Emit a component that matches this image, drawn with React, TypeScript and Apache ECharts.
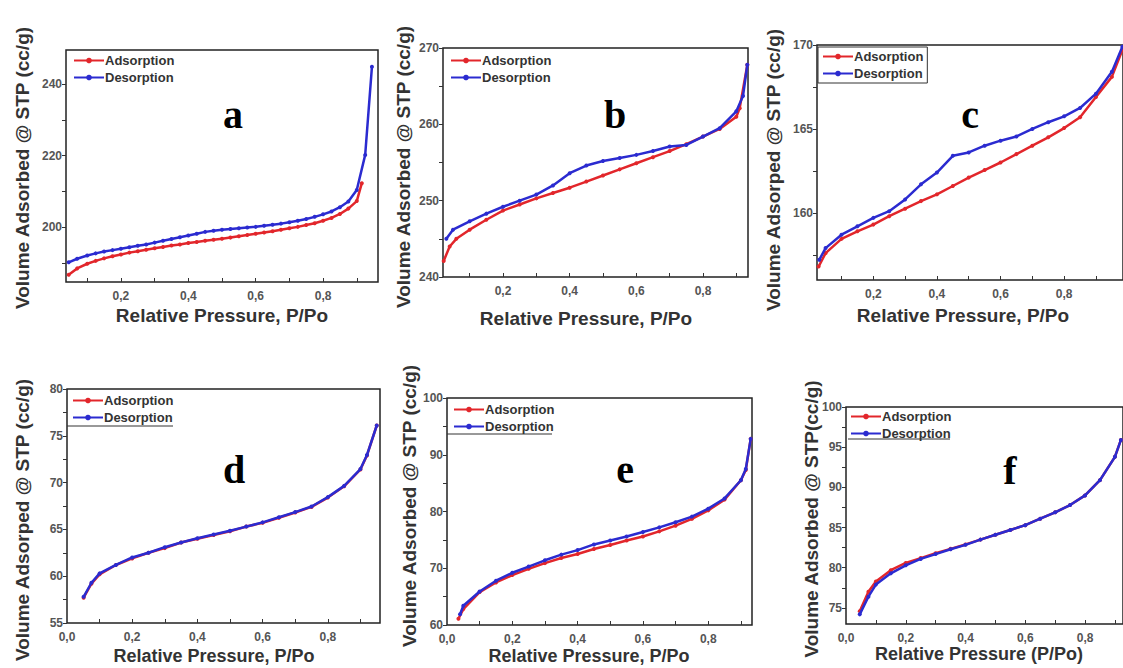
import React, { useEffect, useRef } from "react";
import * as echarts from "echarts";

// ---------- Data ----------
// Panel a
const aAdsP = [0.045,0.07,0.1,0.125,0.15,0.175,0.2,0.225,0.25,0.275,0.3,0.325,0.35,0.375,0.4,0.425,0.45,0.475,0.5,0.525,0.55,0.575,0.6,0.625,0.65,0.675,0.7,0.725,0.75,0.775,0.8,0.825,0.85,0.875,0.9,0.915];
const aAdsV = [186.7,188.5,189.8,190.6,191.3,191.9,192.4,192.9,193.3,193.7,194.1,194.5,194.9,195.2,195.6,195.9,196.2,196.5,196.8,197.1,197.5,197.8,198.2,198.5,198.9,199.3,199.7,200.1,200.6,201.1,201.8,202.6,203.7,205.2,207.3,212.3];
const aDesP = [0.045,0.07,0.1,0.125,0.15,0.175,0.2,0.225,0.25,0.275,0.3,0.325,0.35,0.375,0.4,0.425,0.45,0.475,0.5,0.525,0.55,0.575,0.6,0.625,0.65,0.675,0.7,0.725,0.75,0.775,0.8,0.825,0.85,0.875,0.9,0.925,0.945];
const aDesV = [190.2,191.2,192.1,192.7,193.2,193.6,194.0,194.4,194.8,195.2,195.7,196.2,196.7,197.2,197.7,198.2,198.7,199.0,199.3,199.5,199.7,199.9,200.1,200.4,200.7,201.0,201.4,201.8,202.3,202.9,203.6,204.4,205.6,207.2,210.4,220.2,244.8];

// Panel b
const bAdsP = [0.022,0.04,0.06,0.1,0.15,0.2,0.25,0.3,0.35,0.4,0.45,0.5,0.55,0.6,0.65,0.7,0.75,0.8,0.85,0.9,0.91,0.933];
const bAdsV = [242.1,244.0,245.0,246.2,247.5,248.7,249.5,250.3,251.0,251.7,252.5,253.3,254.1,254.9,255.7,256.5,257.4,258.4,259.4,261.0,262.1,267.8];
const bDesP = [0.03,0.05,0.1,0.15,0.2,0.25,0.3,0.35,0.4,0.45,0.5,0.55,0.6,0.65,0.7,0.75,0.8,0.85,0.9,0.92,0.933];
const bDesV = [245.0,246.2,247.3,248.3,249.2,250.0,250.8,252.0,253.6,254.6,255.2,255.6,256.0,256.5,257.1,257.3,258.4,259.5,261.7,263.7,267.8];

// Panel c
const cAdsP = [0.028,0.05,0.1,0.15,0.2,0.25,0.3,0.35,0.4,0.45,0.5,0.55,0.6,0.65,0.7,0.75,0.8,0.85,0.9,0.95,0.983];
const cAdsV = [156.8,157.6,158.45,158.9,159.3,159.8,160.25,160.7,161.1,161.6,162.1,162.55,163.0,163.5,164.0,164.5,165.05,165.7,166.9,168.1,169.7];
const cDesP = [0.03,0.05,0.1,0.15,0.2,0.25,0.3,0.35,0.4,0.45,0.5,0.55,0.6,0.65,0.7,0.75,0.8,0.85,0.9,0.95,0.983];
const cDesV = [157.2,157.9,158.7,159.2,159.7,160.1,160.8,161.7,162.4,163.4,163.6,164.0,164.3,164.55,165.0,165.4,165.75,166.25,167.1,168.4,169.9];

// Panel d
const dAdsP = [0.051,0.075,0.1,0.15,0.2,0.25,0.3,0.35,0.4,0.45,0.5,0.55,0.6,0.65,0.7,0.75,0.8,0.85,0.9,0.92,0.95];
const dAdsV = [57.7,59.2,60.2,61.2,61.9,62.5,63.0,63.6,64.0,64.4,64.8,65.3,65.7,66.25,66.8,67.4,68.4,69.6,71.4,72.9,76.1];
const dDesP = [0.051,0.075,0.1,0.15,0.2,0.25,0.3,0.35,0.4,0.45,0.5,0.55,0.6,0.65,0.7,0.75,0.8,0.85,0.9,0.92,0.95];
const dDesV = [57.8,59.3,60.3,61.2,62.0,62.5,63.1,63.6,64.05,64.45,64.85,65.3,65.75,66.3,66.85,67.45,68.45,69.65,71.45,72.95,76.1];

// Panel e
const eAdsP = [0.035,0.05,0.1,0.15,0.2,0.25,0.3,0.35,0.4,0.45,0.5,0.55,0.6,0.65,0.7,0.75,0.8,0.85,0.9,0.915,0.93];
const eAdsV = [61.1,62.8,65.8,67.5,68.8,69.9,70.9,71.8,72.5,73.4,74.1,74.9,75.6,76.5,77.5,78.7,80.2,82.1,85.5,87.3,92.8];
const eDesP = [0.04,0.05,0.1,0.15,0.2,0.25,0.3,0.35,0.4,0.45,0.5,0.55,0.6,0.65,0.7,0.75,0.8,0.85,0.9,0.915,0.93];
const eDesV = [61.9,63.4,65.9,67.8,69.2,70.3,71.4,72.4,73.2,74.2,74.9,75.6,76.4,77.2,78.1,79.1,80.5,82.3,85.5,87.5,92.8];

// Panel f
const fAdsP = [0.046,0.075,0.1,0.15,0.2,0.25,0.3,0.35,0.4,0.45,0.5,0.55,0.6,0.65,0.7,0.75,0.8,0.85,0.9,0.92];
const fAdsV = [74.6,77.0,78.3,79.7,80.6,81.2,81.8,82.35,82.9,83.5,84.1,84.7,85.3,86.1,86.9,87.8,89.0,90.9,93.8,95.9];
const fDesP = [0.046,0.075,0.1,0.15,0.2,0.25,0.3,0.35,0.4,0.45,0.5,0.55,0.6,0.65,0.7,0.75,0.8,0.85,0.9,0.92];
const fDesV = [74.2,76.4,77.9,79.3,80.3,81.1,81.7,82.3,82.85,83.5,84.1,84.7,85.3,86.1,86.9,87.8,89.0,90.9,93.8,95.9];

// Tick labels
const xLabelsNoZero = [0.2, 0.4, 0.6, 0.8];
const xLabelsZero = [0.0, 0.2, 0.4, 0.6, 0.8];
const xTickVals = [0.1, 0.2, 0.3, 0.4, 0.5, 0.6, 0.7, 0.8, 0.9];
const aYLabels = [200, 220, 240];
const aYTicks = [190, 200, 210, 220, 230, 240];
const bYLabels = [240, 250, 260, 270];
const bYTicks = [240, 245, 250, 255, 260, 265, 270];
const cYLabels = [160, 165, 170];
const cYTicks = [157.5, 160, 162.5, 165, 167.5, 170];
const dYLabels = [55, 60, 65, 70, 75, 80];
const dYTicks = [55, 57.5, 60, 62.5, 65, 67.5, 70, 72.5, 75, 77.5, 80];
const eYLabels = [60, 70, 80, 90, 100];
const eYTicks = [60, 65, 70, 75, 80, 85, 90, 95, 100];
const fYLabels = [75, 80, 85, 90, 95, 100];
const fYTicks = [75, 77.5, 80, 82.5, 85, 87.5, 90, 92.5, 95, 97.5, 100];

const seriesNames = ["Adsorption", "Desorption"];
const panelLetters = ["a", "b", "c", "d", "e", "f"];
const yTitles = [
  "Volume Adsorbed @ STP (cc/g)",
  "Volume Adsorbed @ STP (cc/g)",
  "Volume Adsorped @ STP (cc/g)",
  "Volume Adsorped @ STP (cc/g)",
  "Volume Adsorbed @ STP (cc/g)",
  "Volume Adsorbed @ STP(cc/g)",
];
const xTitles = [
  "Relative Pressure, P/Po",
  "Relative Pressure, P/Po",
  "Relative Pressure, P/Po",
  "Relative Pressure, P/Po",
  "Relative Pressure, P/Po",
  "Relative Pressure (P/Po)",
];

// ---------- Styling / layout ----------
const RED = "#e2262b";
const BLUE = "#2b2bd0";
const SANS = "'Liberation Sans', Arial, sans-serif";
const SERIF = "'Liberation Serif', 'Times New Roman', serif";

const panels = [
  { grid: { left: 66, top: 50, width: 312, height: 232 }, xMin: 0.037, xMax: 0.963, xLabels: xLabelsNoZero, yMin: 184.7, yMax: 249.5, yLabels: aYLabels, yTicks: aYTicks, ads: [aAdsP, aAdsV], des: [aDesP, aDesV], legend: { left: 73, top: 54 }, legendBox: false, letter: [233, 114], yTitle: [22, 168], xTitle: [222, 315] },
  { grid: { left: 443, top: 48, width: 305, height: 229 }, xMin: 0.02, xMax: 0.935, xLabels: xLabelsNoZero, yMin: 240, yMax: 270, yLabels: bYLabels, yTicks: bYTicks, ads: [bAdsP, bAdsV], des: [bDesP, bDesV], legend: { left: 450, top: 54 }, legendBox: false, letter: [615, 114], yTitle: [403, 167], xTitle: [586, 318] },
  { grid: { left: 817, top: 45, width: 308, height: 235 }, xMin: 0.023, xMax: 0.985, xLabels: xLabelsNoZero, yMin: 156, yMax: 170, yLabels: cYLabels, yTicks: cYTicks, ads: [cAdsP, cAdsV], des: [cDesP, cDesV], legend: { left: 818, top: 47 }, legendBox: true, letter: [970, 114], yTitle: [773, 170], xTitle: [963, 315] },
  { grid: { left: 67, top: 389, width: 313, height: 234 }, xMin: 0, xMax: 0.96, xLabels: xLabelsZero, yMin: 55, yMax: 80, yLabels: dYLabels, yTicks: dYTicks, ads: [dAdsP, dAdsV], des: [dDesP, dDesV], legend: { left: 72, top: 394 }, legendBox: false, letter: [234, 469], yTitle: [22, 520], xTitle: [214, 656], xTitleSize: 18, underline: [67, 173, 426] },
  { grid: { left: 447, top: 398, width: 305, height: 227 }, xMin: 0, xMax: 0.934, xLabels: xLabelsZero, yMin: 60, yMax: 100, yLabels: eYLabels, yTicks: eYTicks, ads: [eAdsP, eAdsV], des: [eDesP, eDesV], legend: { left: 453, top: 403 }, legendBox: false, letter: [625, 469], yTitle: [409, 506], xTitle: [589, 656], xTitleSize: 18, underline: [447, 552, 434] },
  { grid: { left: 846, top: 407, width: 279, height: 217 }, xMin: 0, xMax: 0.927, xLabels: xLabelsZero, yMin: 73, yMax: 100, yLabels: fYLabels, yTicks: fYTicks, ads: [fAdsP, fAdsV], des: [fDesP, fDesV], legend: { left: 850, top: 410 }, legendBox: false, letter: [1010, 470], yTitle: [811, 519], xTitle: [979, 654], underline: [848, 950, 439], xTitleSize: 18 },
];

const zip = (p: number[], v: number[]) => p.map((x, i) => [x, v[i]]);

export default function App() {
  const ref = useRef<HTMLDivElement>(null);

  useEffect(() => {
    if (!ref.current) return;
    const chart = echarts.init(ref.current, undefined, { renderer: "svg" });

    const grid: any[] = [];
    const xAxis: any[] = [];
    const yAxis: any[] = [];
    const series: any[] = [];
    const legend: any[] = [];
    const graphic: any[] = [];

    panels.forEach((p: any, i: number) => {
      grid.push({
        ...p.grid,
        show: true,
        borderColor: "#222",
        borderWidth: 1.5,
        backgroundColor: "#fff",
      });
      xAxis.push({
        type: "value",
        gridIndex: i,
        min: p.xMin,
        max: p.xMax,
        axisLine: { show: false },
        splitLine: { show: false },
        axisTick: { show: true, inside: true, length: 4, customValues: xTickVals, lineStyle: { color: "#333", width: 1 } },
        axisLabel: {
          customValues: p.xLabels,
          formatter: (v: number) => v.toFixed(1).replace(".", ","),
          fontSize: 12,
          fontWeight: "bold",
          color: "#555",
          fontFamily: SANS,
          margin: 8,
        },
      });
      yAxis.push({
        type: "value",
        gridIndex: i,
        min: p.yMin,
        max: p.yMax,
        axisLine: { show: false },
        splitLine: { show: false },
        axisTick: { show: true, inside: false, length: 4, customValues: p.yTicks, lineStyle: { color: "#333", width: 1 } },
        axisLabel: {
          customValues: p.yLabels,
          formatter: (v: number) => String(Math.round(v)),
          fontSize: 12,
          fontWeight: "bold",
          color: "#555",
          fontFamily: SANS,
          margin: 4,
        },
      });
      series.push({
        type: "line",
        name: seriesNames[0],
        xAxisIndex: i,
        yAxisIndex: i,
        data: zip(p.ads[0], p.ads[1]),
        symbol: "circle",
        symbolSize: 4,
        lineStyle: { width: 2.5, color: RED },
        itemStyle: { color: RED },
        z: 2,
      });
      series.push({
        type: "line",
        name: seriesNames[1],
        xAxisIndex: i,
        yAxisIndex: i,
        data: zip(p.des[0], p.des[1]),
        symbol: "circle",
        symbolSize: 4,
        lineStyle: { width: 2.5, color: BLUE },
        itemStyle: { color: BLUE },
        z: 3,
      });
      legend.push({
        left: p.legend.left,
        top: p.legend.top,
        orient: "vertical",
        data: seriesNames,
        itemWidth: 30,
        itemHeight: 7,
        itemGap: 4,
        padding: p.legendBox ? [3, 4, 3, 4] : 0,
        borderColor: p.legendBox ? "#333" : "transparent",
        borderWidth: p.legendBox ? 1 : 0,
        backgroundColor: p.legendBox ? "#fff" : "transparent",
        selectedMode: false,
        textStyle: { fontSize: 13, fontWeight: "bold", color: "#333", fontFamily: SANS, padding: [0, 0, 0, -4] },
      });
      graphic.push({
        type: "text",
        x: p.letter[0],
        y: p.letter[1],
        style: { text: panelLetters[i], fontSize: 40, fontWeight: "bold", fontFamily: SERIF, fill: "#000", align: "center", verticalAlign: "middle" },
      });
      graphic.push({
        type: "text",
        x: p.yTitle[0],
        y: p.yTitle[1],
        rotation: Math.PI / 2,
        style: { text: yTitles[i], fontSize: 19, fontWeight: "bold", fontFamily: SANS, fill: "#333", align: "center", verticalAlign: "middle" },
      });
      graphic.push({
        type: "text",
        x: p.xTitle[0],
        y: p.xTitle[1],
        style: { text: xTitles[i], fontSize: p.xTitleSize || 19, fontWeight: "bold", fontFamily: SANS, fill: "#333", align: "center", verticalAlign: "middle" },
      });
      if (p.underline) {
        graphic.push({
          type: "line",
          shape: { x1: p.underline[0], y1: p.underline[2], x2: p.underline[1], y2: p.underline[2] },
          style: { stroke: "#333", lineWidth: 1 },
        });
      }
    });

    chart.setOption({
      animation: false,
      backgroundColor: "#fff",
      grid,
      xAxis,
      yAxis,
      series,
      legend,
      graphic,
    });

    return () => chart.dispose();
  }, []);

  return (
    <div
      ref={ref}
      style={{ position: "absolute", left: 0, top: 0, width: 1123, height: 668, background: "#fff" }}
    />
  );
}
